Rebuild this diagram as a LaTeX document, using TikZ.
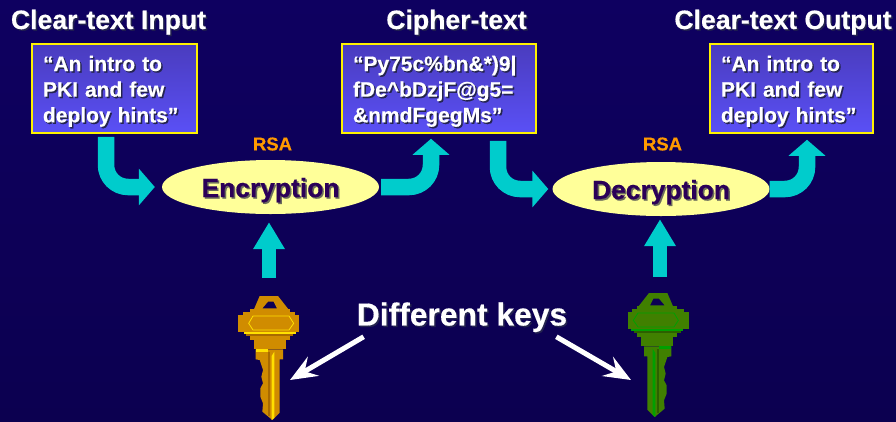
\documentclass[tikz,border=0pt]{standalone}
\usepackage{xcolor}
\usepackage{fontspec}
\setmainfont{Liberation Sans}[BoldFeatures={FakeBold=0.4}]
\usepackage{tikz}
\usetikzlibrary{calc,arrows.meta,shapes.geometric}
\definecolor{navytop}{HTML}{0E0060}
\definecolor{navybot}{HTML}{0C0050}
\definecolor{boxtop}{HTML}{4A3CBE}
\definecolor{boxbot}{HTML}{5A50F6}
\definecolor{flowcyan}{HTML}{00CCCC}
\definecolor{paleyellow}{HTML}{FFFF99}
\definecolor{rsaorange}{HTML}{FF9900}
\definecolor{darkpurple}{HTML}{2C0058}
\definecolor{shadowc}{HTML}{24244E}
\definecolor{shadowe}{HTML}{6C6C5C}
\definecolor{goldbody}{HTML}{D08C00}
\definecolor{goldlight}{HTML}{FFE000}
\definecolor{golddark}{HTML}{A86A00}
\definecolor{greenbody}{HTML}{408000}
\definecolor{greenlight}{HTML}{00A000}
\definecolor{greendark}{HTML}{2C6000}
\tikzset{>=stealth,
    title/.style={font=\bfseries\fontsize{26.6}{30}\selectfont,text=white,anchor=base,inner sep=0},
    textbox/.style={draw=yellow,line width=1.5pt,top color=boxtop,bottom color=boxbot,minimum height=89pt,
        inner xsep=11pt,inner ysep=0,align=left,text=white,text height=16pt,text depth=51pt,
        font=\bfseries\fontsize{21}{25.7}\selectfont},
    process/.style={ellipse,fill=paleyellow,minimum width=217pt,minimum height=54pt,inner sep=0,
        text height=26pt,text depth=6pt,text=darkpurple,font=\bfseries\fontsize{26.4}{30}\selectfont},
    rsa/.style={text=rsaorange,font=\bfseries\fontsize{18.5}{20}\selectfont,inner sep=0},
    flow/.style={draw=flowcyan,line width=16.5pt,rounded corners=22pt,-{Triangle[length=16pt,width=36pt]}},
    upflow/.style={draw=flowcyan,line width=14pt,-{Triangle[length=27pt,width=30pt]}},
    pointer/.style={draw=white,line width=5pt,-{Stealth[length=27pt,width=22pt,inset=10pt]}}
}
\newcommand{\shd}[2][shadowc]{\leavevmode\rlap{\kern1.5pt\raisebox{-1.5pt}{\textcolor{#1}{#2}}}#2}
% x, y of the top of the key, flip, body, bright, dark
\newcommand{\keyshape}[6]{
\begin{scope}[shift={(#1,#2)},xscale=#3*0.3333,yscale=0.3333]
    \fill[#4,even odd rule] (-46,42)--(-28,0)--(27,0)--(60,42)--cycle (-20,37)--(-3,17)--(14,17)--(24,37)--cycle;
    \fill[#4] (-58,40) rectangle (62,49);
    \fill[#4] (-78,49) rectangle (77,57);
    \fill[#4] (-92,57) rectangle (90,107);
    \draw[#5,line width=0.8pt] (-61,82)--(-48,60)--(60,60)--(74,82)--(60,102)--(-48,102)--cycle;
    \fill[#5] (-76,107) rectangle (80,115);
    \fill[#6] (-70,115) rectangle (72,120);
    \fill[#4] (-58,120) rectangle (62,132);
    \fill[#4] (-46,132) rectangle (50,160);
    \fill[#4] (-40,160)--(42,160)--(42,190)--(32,190)--(32,350)--(10,372)--(-20,347)--(-18,322)--(-26,302)
        --(-26,277)--(-18,262)--(-23,242)--(-18,222)--(-28,192)--(-40,190)--cycle;
    \fill[#5] (-40,160) rectangle (-3,167);
    \fill[#6] (-3,167) rectangle (2,360);
    \fill[#5] (8,180)--(16,167)--(16,366)--(8,372)--cycle;
\end{scope}
}

\begin{document}
\begin{tikzpicture}[x=1pt,y=-1pt]
\useasboundingbox (0,0) rectangle (896,421);
\fill[top color=navytop,bottom color=navybot] (0,0) rectangle (896,421);

    \node[title] (intitle) at (108.5,29) {\shd{Clear-text Input}};
    \node[title] (ciphertitle) at (456.5,29) {\shd{Cipher-text}};
    \node[title] (outtitle) at (783,29) {\shd{Clear-text Output}};

    \node[textbox,text width=143pt] (input) at (114.5,88.5) {\shd{“An intro to}\\\shd{PKI and few}\\\shd{deploy hints”}};
    \node[textbox,text width=172pt] (cipher) at (439,88.5) {\shd{“Py75c\%bn\&*)9|}\\\shd{fDe\textasciicircum bDzjF@g5=}\\\shd{\&nmdFgegMs”}};
    \node[textbox,text width=141pt] (output) at (791.5,88.5) {\shd{“An intro to}\\\shd{PKI and few}\\\shd{deploy hints”}};

    \node[process] (encrypt) at (270.5,187) {\shd[shadowe]{Encryption}};
    \node[process] (decrypt) at (661,189) {\shd[shadowe]{Decryption}};
    \node[rsa] (rsaenc) at (272.5,144) {RSA};
    \node[rsa] (rsadec) at (662.5,144) {RSA};

    \node[inner sep=0,text=white,font=\bfseries\fontsize{31.8}{34}\selectfont] (diffkeys) at (462,318) {\shd{Different keys}};

    \coordinate (goldkey) at (269,296);
    \coordinate (greenkey) at (660,293);
    \coordinate (goldtip) at (290,380);
    \coordinate (greentip) at (631,380);

    \draw[flow,shorten <=3pt,shorten >=7pt] ([xshift=-8.5pt]input.south) |- (encrypt.west);
    \draw[flow,shorten <=2pt,shorten >=5pt] (encrypt.east) -| ([xshift=-8pt]cipher.south);
    \draw[flow,shorten <=7pt,shorten >=4pt] ([xshift=59pt]cipher.south) |- (decrypt.west);
    \draw[flow,shorten >=6pt] (decrypt.east) -| ([xshift=15.5pt]output.south);

    \draw[upflow,shorten <=18pt,shorten >=8pt] (goldkey) -- (goldkey |- encrypt.south);
    \draw[upflow,shorten <=16pt,shorten >=3pt] (greenkey) -- (greenkey |- decrypt.south);

    \keyshape{269}{296}{1}{goldbody}{goldlight}{golddark}
    \keyshape{658}{293}{-1}{greenbody}{greenlight}{greendark}

    \draw[pointer] ([xshift=7pt,yshift=-3pt]diffkeys.south west) -- (goldtip);
    \draw[pointer] ([xshift=-11pt,yshift=-3pt]diffkeys.south east) -- (greentip);
\end{tikzpicture}
\end{document}
